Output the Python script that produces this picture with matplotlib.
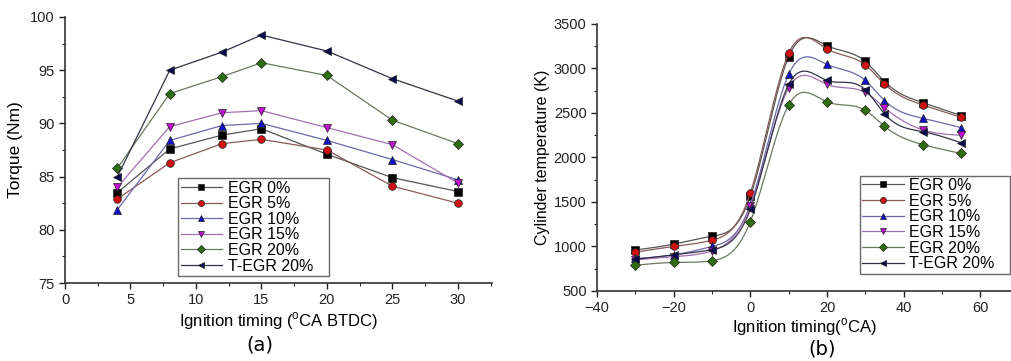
import numpy as np
import matplotlib
matplotlib.use("Agg")
import matplotlib.pyplot as plt
from matplotlib.ticker import MultipleLocator

plt.rcParams['font.family'] = ['Liberation Sans', 'DejaVu Sans']
plt.rcParams['mathtext.fontset'] = 'custom'
plt.rcParams['mathtext.rm'] = 'Liberation Sans'

labels = ["EGR 0%", "EGR 5%", "EGR 10%", "EGR 15%", "EGR 20%", "T-EGR 20%"]
colors = ["#000000", "#d01010", "#1010c8", "#c010d0", "#2e6e10", "#0a0a50"]
line_colors = ["#555555", "#8a5a5a", "#6a6aa8", "#a070b0", "#6a7a60", "#333348"]
markers = ["s", "o", "^", "v", "D", "<"]

# torque vs ignition timing
timing_a = [4, 8, 12, 15, 20, 25, 30]
torque_egr0 = [83.5, 87.6, 88.9, 89.5, 87.1, 84.9, 83.6]
torque_egr5 = [82.9, 86.3, 88.1, 88.5, 87.5, 84.1, 82.5]
torque_egr10 = [81.9, 88.4, 89.8, 90.0, 88.4, 86.6, 84.7]
torque_egr15 = [84.0, 89.7, 91.0, 91.2, 89.6, 88.0, 84.4]
torque_egr20 = [85.8, 92.8, 94.4, 95.7, 94.5, 90.3, 88.1]
torque_tegr20 = [85.0, 95.0, 96.7, 98.3, 96.8, 94.2, 92.1]

# cylinder temperature vs ignition timing
timing_b = [-30, -20, -10, 0, 10, 20, 30, 35, 45, 55]
temp_egr0 = [960, 1026, 1115, 1563, 3132, 3256, 3079, 2853, 2616, 2470]
temp_egr5 = [935, 1000, 1070, 1600, 3170, 3220, 3040, 2825, 2590, 2450]
temp_egr10 = [865, 905, 1000, 1470, 2935, 3045, 2865, 2640, 2440, 2335]
temp_egr15 = [850, 885, 950, 1460, 2780, 2820, 2730, 2560, 2310, 2250]
temp_egr20 = [790, 820, 840, 1280, 2590, 2625, 2530, 2350, 2145, 2045]
temp_tegr20 = [855, 905, 965, 1420, 2820, 2865, 2760, 2490, 2290, 2165]

torque = [torque_egr0, torque_egr5, torque_egr10, torque_egr15, torque_egr20, torque_tegr20]
temps = [temp_egr0, temp_egr5, temp_egr10, temp_egr15, temp_egr20, temp_tegr20]


def natural_spline(x, y, num=400):
    # natural cubic spline through the points, for the smoothed curves
    x = np.asarray(x, float)
    y = np.asarray(y, float)
    n = len(x)
    h = np.diff(x)
    A = np.zeros((n, n))
    r = np.zeros(n)
    A[0, 0] = A[-1, -1] = 1
    for i in range(1, n - 1):
        A[i, i - 1] = h[i - 1]
        A[i, i] = 2 * (h[i - 1] + h[i])
        A[i, i + 1] = h[i]
        r[i] = 6 * ((y[i + 1] - y[i]) / h[i] - (y[i] - y[i - 1]) / h[i - 1])
    M = np.linalg.solve(A, r)
    xs = np.linspace(x[0], x[-1], num)
    idx = np.clip(np.searchsorted(x, xs) - 1, 0, n - 2)
    x0, x1 = x[idx], x[idx + 1]
    hh = x1 - x0
    a = (x1 - xs) / hh
    b = (xs - x0) / hh
    ys = a * y[idx] + b * y[idx + 1] + ((a**3 - a) * M[idx] + (b**3 - b) * M[idx + 1]) * hh**2 / 6
    return xs, ys


fig = plt.figure(figsize=(10.11, 3.61), dpi=100)
ax1 = fig.add_axes([0.0643, 0.216, 0.4223, 0.737])
ax2 = fig.add_axes([0.5905, 0.194, 0.4095, 0.7396])

for vals, lab, c, lc, m in zip(torque, labels, colors, line_colors, markers):
    ax1.plot(timing_a, vals, color=lc, lw=0.9, marker=m, ms=5.5,
             mfc=c, mec="#202020", mew=0.5, label=lab)

for vals, lab, c, lc, m in zip(temps, labels, colors, line_colors, markers):
    xs, ys = natural_spline(timing_b, vals)
    ax2.plot(xs, ys, color=lc, lw=0.9)
    ax2.plot(timing_b, vals, ls="none", marker=m, ms=5.5,
             mfc=c, mec="#202020", mew=0.5)
    ax2.plot([], [], color=lc, lw=0.9, marker=m, ms=5.5, mfc=c,
             mec="#202020", mew=0.5, label=lab)

ax1.set_xlim(0, 32.6)
ax1.set_ylim(75, 100)
ax1.xaxis.set_major_locator(MultipleLocator(5))
ax1.xaxis.set_minor_locator(MultipleLocator(2.5))
ax1.yaxis.set_major_locator(MultipleLocator(5))
ax1.yaxis.set_minor_locator(MultipleLocator(2.5))
ax1.set_xlabel(r"Ignition timing ($^{\rm o}$CA BTDC)", fontsize=12, labelpad=2)
ax1.set_ylabel("Torque (Nm)", fontsize=12.5, labelpad=5)

ax2.set_xlim(-40, 68)
ax2.set_ylim(500, 3500)
ax2.xaxis.set_major_locator(MultipleLocator(20))
ax2.xaxis.set_minor_locator(MultipleLocator(10))
ax2.yaxis.set_major_locator(MultipleLocator(500))
ax2.yaxis.set_minor_locator(MultipleLocator(250))
ax2.set_xlabel(r"Ignition timing($^{\rm o}$CA)", fontsize=12, labelpad=1)
ax2.set_ylabel("Cylinder temperature (K)", fontsize=11.5, labelpad=3)

for ax in (ax1, ax2):
    ax.spines["top"].set_visible(False)
    ax.spines["right"].set_visible(False)
    for s in ("left", "bottom"):
        ax.spines[s].set_linewidth(1.2)
        ax.spines[s].set_color("#333333")
    ax.tick_params(which="major", direction="out", length=4, width=1, labelsize=10.5, colors="#222222")
    ax.tick_params(which="minor", direction="out", length=2.5, width=0.8, colors="#222222")
    ax.patch.set_alpha(0)

leg_kw = dict(fontsize=11.5, frameon=True, fancybox=False, borderpad=0.15,
              labelspacing=0.04, handlelength=2.6, handletextpad=0.35,
              borderaxespad=0, markerscale=0.8)
leg1 = ax1.legend(loc="lower left", bbox_to_anchor=(0.265, 0.026, 0.353, 0.384), mode="expand", **leg_kw)
leg1.get_frame().set_edgecolor("#444444")
leg1.get_frame().set_linewidth(1.0)
leg2 = ax2.legend(loc="lower left", bbox_to_anchor=(0.635, 0.065, 0.362, 0.375), mode="expand", **leg_kw)
leg2.get_frame().set_edgecolor("#444444")
leg2.get_frame().set_linewidth(1.0)

fig.text(0.257, 0.045, "(a)", fontsize=14, ha="center", va="center", family="DejaVu Sans")
fig.text(0.813, 0.034, "(b)", fontsize=14, ha="center", va="center", family="DejaVu Sans")

fig.savefig("out.png", dpi=100)
